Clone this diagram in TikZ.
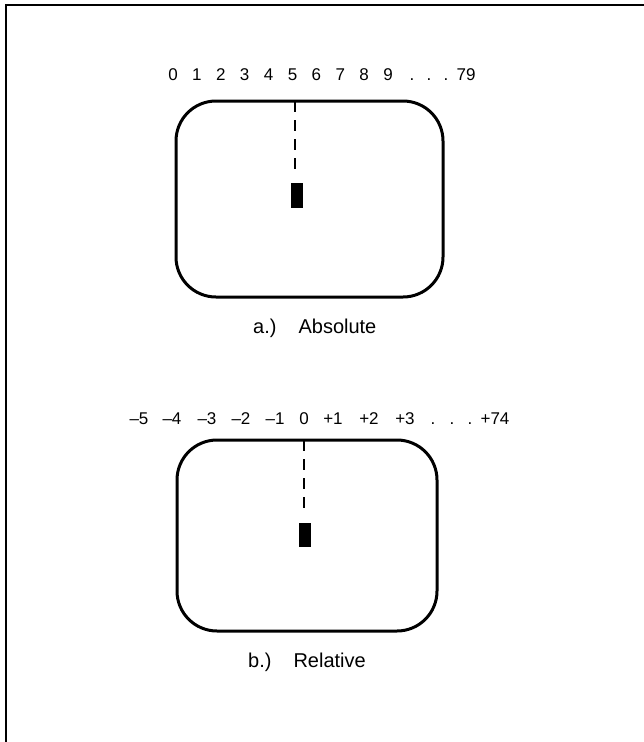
\documentclass[tikz,border=0pt]{standalone}
\usepackage{fontspec}
\setmainfont{Liberation Sans}
\begin{document}
\begin{tikzpicture}[x=1pt,y=-1pt,
  frameline/.style={line width=1.6pt},
  screen/.style={draw,line width=3pt,rounded corners=40pt},
  dashln/.style={line width=1.4pt,dash pattern=on 11pt off 8pt},
  cursor/.style={fill=black},
  num/.style={inner sep=0pt,anchor=base,font=\fontsize{17}{20}\selectfont},
  lbl/.style={inner sep=0pt,anchor=west,font=\fontsize{20}{24}\selectfont}]
\useasboundingbox (0,0) rectangle (644,742);
% frame
\coordinate (fl) at (6,742);
\coordinate (ftl) at (6,5);
\coordinate (fr) at (644,5);
\draw[frameline] (fl) -- (ftl) -- (fr);
% ---- a) absolute
\foreach \d [count=\i from 0] in {0,1,2,3,4,5,6,7,8,9}{
  \node[num] (a\i) at ({173+23.9*\i},80) {\d};
}
\node[num] (ad1) at (412,80) {.};
\node[num] (ad2) at (429,80) {.};
\node[num] (ad3) at (446,80) {.};
\node[num] (a79) at (466,80) {79};
\draw[screen] (176,101) rectangle (443,297);
\coordinate (atop) at (295,101);
\coordinate (aend) at (295,173);
\draw[dashln] (atop) -- (aend);
\path[cursor] (291,183) rectangle (303,208);
\node[lbl] (alabel) at (253,328) {a.)\hspace{22pt}Absolute};
% ---- b) relative
\node[num] (bm5) at (139,424) {–5};
\node[num] (bm4) at (172,424) {–4};
\node[num] (bm3) at (207,424) {–3};
\node[num] (bm2) at (241,424) {–2};
\node[num] (bm1) at (275,424) {–1};
\node[num] (b0)  at (304,424) {0};
\node[num] (bp1) at (333,424) {+1};
\node[num] (bp2) at (369,424) {+2};
\node[num] (bp3) at (405,424) {+3};
\node[num] (bd1) at (433,424) {.};
\node[num] (bd2) at (452,424) {.};
\node[num] (bd3) at (470,424) {.};
\node[num] (bp74) at (495,424) {+74};
\draw[screen] (177,440) rectangle (437,631);
\coordinate (btop) at (304,440);
\coordinate (bend) at (304,514);
\draw[dashln] (btop) -- (bend);
\path[cursor] (299,523) rectangle (311,547);
\node[lbl] (blabel) at (248,662) {b.)\hspace{22pt}Relative};
\end{tikzpicture}
\end{document}
